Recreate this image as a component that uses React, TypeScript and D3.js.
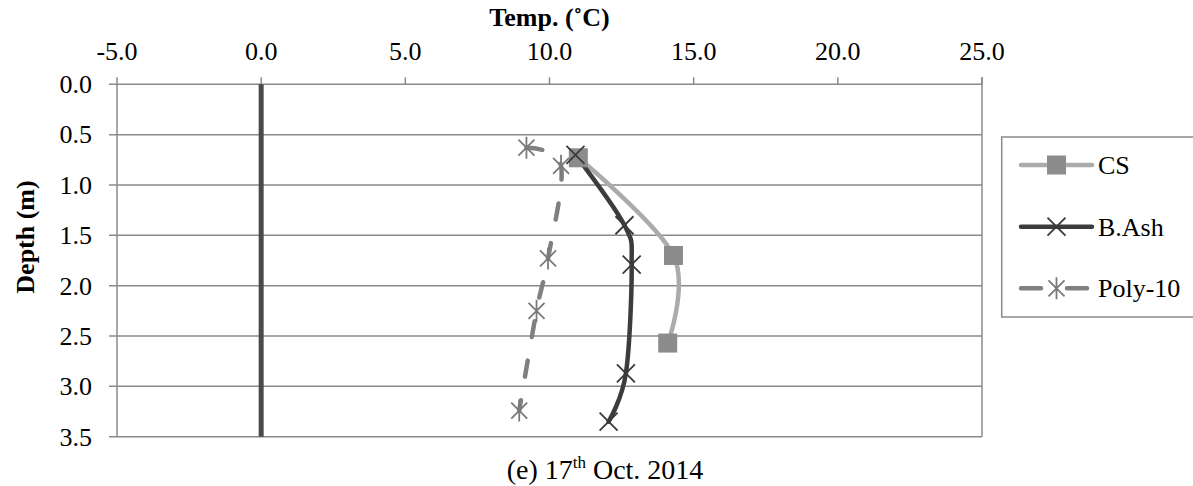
import React from "react";
import * as d3 from "d3";

const WIDTH = 1193;
const HEIGHT = 486;

// x ticks (temperature) and y ticks (depth)
const tempTicks = [-5, 0, 5, 10, 15, 20, 25];
const depthTicks = [0, 0.5, 1, 1.5, 2, 2.5, 3, 3.5];

// reference line at 0 degC
const zeroTemp = [0, 0];
const zeroDepth = [0, 3.5];

// series
const csTemp = [11.0, 14.3, 14.1];
const csDepth = [0.73, 1.7, 2.57];

const ashTemp = [10.9, 12.6, 12.85, 12.65, 12.05];
const ashDepth = [0.7, 1.4, 1.79, 2.87, 3.35];

const polyTemp = [9.2, 10.4, 9.95, 9.55, 8.95];
const polyDepth = [0.63, 0.81, 1.73, 2.25, 3.24];

const legendNames = ["CS", "B.Ash", "Poly-10"];

const FONT = "'Liberation Serif', 'Times New Roman', serif";
const GRID = "#8a8a8a";

const margin = { top: 84.3, right: 211, bottom: 49.3, left: 117 };

function Marker({ type, x, y }: { type: string; x: number; y: number }) {
  if (type === "square") {
    return <rect x={x - 9.5} y={y - 9.5} width={19} height={19} fill="#8c8c8c" />;
  }
  if (type === "x") {
    return (
      <path
        d={`M${x - 9},${y - 9}L${x + 9},${y + 9}M${x - 9},${y + 9}L${x + 9},${y - 9}`}
        stroke="#3a3a3a"
        strokeWidth={1.8}
        fill="none"
      />
    );
  }
  return (
    <path
      d={`M${x - 8},${y - 8}L${x + 8},${y + 8}M${x - 8},${y + 8}L${x + 8},${y - 8}M${x},${y - 11}L${x},${y + 11}`}
      stroke="#7a7a7a"
      strokeWidth={1.8}
      fill="none"
    />
  );
}

export default function App() {
  const x = d3
    .scaleLinear()
    .domain([-5, 25])
    .range([margin.left, WIDTH - margin.right]);
  const y = d3
    .scaleLinear()
    .domain([0, 3.5])
    .range([margin.top, HEIGHT - margin.bottom]);

  const line = (t: number[], d: number[]) =>
    d3
      .line<number>()
      .x((v) => x(v))
      .y((_, i) => y(d[i]))
      .curve(d3.curveCardinal)(t) as string;

  const series = [
    { name: "CS", t: csTemp, d: csDepth, color: "#ababab", dash: undefined, marker: "square" },
    { name: "B.Ash", t: ashTemp, d: ashDepth, color: "#3c3c3c", dash: undefined, marker: "x" },
    { name: "Poly-10", t: polyTemp, d: polyDepth, color: "#808080", dash: "16,24", marker: "star" },
  ];

  const x0 = x(-5);
  const x1 = x(25);
  const y0 = y(0);
  const y1 = y(3.5);

  const legendX = 1001.7;
  const legendRows = [165, 226.7, 288.3];

  return (
    <svg
      width={WIDTH}
      height={HEIGHT}
      style={{ position: "absolute", left: 0, top: 0, background: "#fff" }}
      fontFamily={FONT}
    >
      {/* grid lines */}
      {depthTicks.map((d) => (
        <line key={d} x1={x0 - 8} x2={x1} y1={y(d)} y2={y(d)} stroke={GRID} strokeWidth={1.5} />
      ))}
      <line x1={x0} x2={x0} y1={y0} y2={y1} stroke={GRID} strokeWidth={1.5} />
      <line x1={x1} x2={x1} y1={y0 - 7} y2={y1} stroke={GRID} strokeWidth={1.5} />
      {tempTicks.map((t) => (
        <line key={t} x1={x(t)} x2={x(t)} y1={y0 - 7} y2={y0} stroke={GRID} strokeWidth={1.5} />
      ))}

      {/* tick labels */}
      {tempTicks.map((t) => (
        <text key={t} x={x(t)} y={60} textAnchor="middle" fontSize={26}>
          {t.toFixed(1)}
        </text>
      ))}
      {depthTicks.map((d) => (
        <text key={d} x={92} y={y(d)} dy="0.34em" textAnchor="end" fontSize={26}>
          {d.toFixed(1)}
        </text>
      ))}

      {/* axis titles */}
      <text x={(x0 + x1) / 2} y={26} textAnchor="middle" fontSize={26} fontWeight="bold">
        Temp. (˚C)
      </text>
      <text
        transform={`translate(34, 237) rotate(-90)`}
        textAnchor="middle"
        fontSize={26}
        fontWeight="bold"
      >
        Depth (m)
      </text>

      {/* 0 degC line */}
      <path
        d={d3
          .line<number>()
          .x((v) => x(v))
          .y((_, i) => y(zeroDepth[i]))(zeroTemp) as string}
        stroke="#4a4a4a"
        strokeWidth={5}
        fill="none"
      />

      {/* series */}
      {series.map((s) => (
        <path
          key={s.name}
          d={line(s.t, s.d)}
          stroke={s.color}
          strokeWidth={4.5}
          strokeDasharray={s.dash}
          strokeLinecap="round"
          fill="none"
        />
      ))}
      {series.map((s) =>
        s.t.map((t, i) => <Marker key={s.name + i} type={s.marker} x={x(t)} y={y(s.d[i])} />)
      )}

      {/* legend */}
      <rect x={legendX} y={137} width={300} height={180} fill="#fff" stroke={GRID} strokeWidth={1.5} />
      {series.map((s, i) => (
        <g key={s.name}>
          <line
            x1={1021}
            x2={1092}
            y1={legendRows[i]}
            y2={legendRows[i]}
            stroke={s.color}
            strokeWidth={4.5}
            strokeDasharray={s.dash ? "20,26" : undefined}
            strokeLinecap="round"
          />
          <Marker type={s.marker} x={1056.5} y={legendRows[i]} />
          <text x={1098} y={legendRows[i]} dy="0.34em" fontSize={26}>
            {legendNames[i]}
          </text>
        </g>
      ))}

      {/* caption */}
      <text x={605} y={479} textAnchor="middle" fontSize={28}>
        (e) 17
        <tspan fontSize={17} dy={-11}>
          th
        </tspan>
        <tspan dy={11}> Oct. 2014</tspan>
      </text>
    </svg>
  );
}
